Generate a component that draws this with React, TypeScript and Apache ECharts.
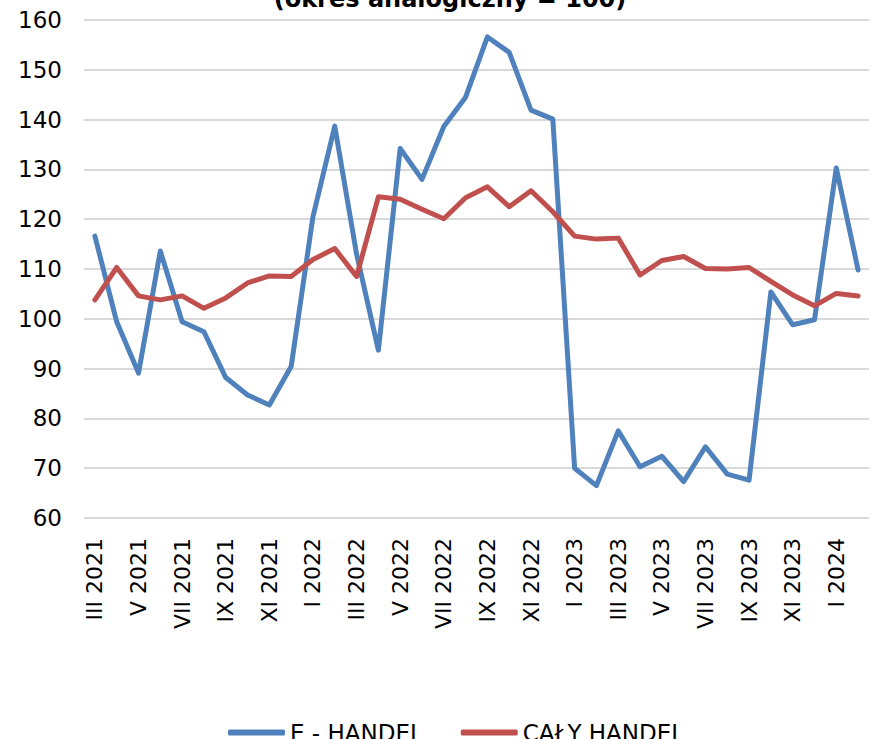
import React, { useEffect, useRef } from "react";
import * as echarts from "echarts";

const categories = [
  "III 2021", "IV 2021", "V 2021", "VI 2021", "VII 2021", "VIII 2021", "IX 2021", "X 2021", "XI 2021", "XII 2021",
  "I 2022", "II 2022", "III 2022", "IV 2022", "V 2022", "VI 2022", "VII 2022", "VIII 2022", "IX 2022", "X 2022", "XI 2022", "XII 2022",
  "I 2023", "II 2023", "III 2023", "IV 2023", "V 2023", "VI 2023", "VII 2023", "VIII 2023", "IX 2023", "X 2023", "XI 2023", "XII 2023",
  "I 2024", "II 2024",
];

const eHandel = [
  116.6, 99.4, 89.1, 113.6, 99.4, 97.4, 88.2, 84.7, 82.7, 90.4,
  120.5, 138.7, 113.0, 93.7, 134.2, 128.0, 138.6, 144.5, 156.6, 153.5, 141.9, 140.1,
  70.0, 66.5, 77.5, 70.3, 72.4, 67.3, 74.3, 68.8, 67.6, 105.4, 98.8, 99.8,
  130.3, 109.8,
];

const calyHandel = [
  103.8, 110.3, 104.6, 103.8, 104.6, 102.1, 104.2, 107.2, 108.6, 108.5,
  111.9, 114.1, 108.5, 124.5, 124.0, 122.0, 120.1, 124.3, 126.5, 122.5, 125.7, 121.5,
  116.6, 116.0, 116.2, 108.8, 111.7, 112.5, 110.1, 110.0, 110.3, 107.5, 104.8, 102.6,
  105.1, 104.6,
];

const seriesNames = ["E - HANDEL", "CAŁY HANDEL"];
const titleText = "(okres analogiczny = 100)";

export default function App() {
  const ref = useRef<HTMLDivElement>(null);
  useEffect(() => {
    if (!ref.current) return;
    const chart = echarts.init(ref.current, null, { renderer: "svg" });
    const font = "'DejaVu Sans', Verdana, sans-serif";
    chart.setOption({
      animation: false,
      backgroundColor: "#ffffff",
      textStyle: { fontFamily: font },
      graphic: [
        {
          type: "text",
          x: 450,
          y: -1,
          style: {
            text: titleText,
            fontFamily: font,
            fontSize: 24,
            fontWeight: "bold",
            fill: "#000000",
            align: "center",
            verticalAlign: "middle",
          },
        },
      ],
      grid: { left: 84, right: -5, top: 20, bottom: 221, containLabel: false },
      legend: {
        data: seriesNames,
        left: 223,
        top: 716,
        itemWidth: 57,
        itemHeight: 6,
        itemGap: 38,
        icon: "roundRect",
        textStyle: { fontFamily: font, fontSize: 23, color: "#000000", lineHeight: 23 },
      },
      xAxis: {
        type: "category",
        data: categories,
        boundaryGap: true,
        axisLine: { show: false },
        axisTick: { show: false },
        axisLabel: {
          interval: 1,
          rotate: 90,
          margin: 20,
          fontSize: 22,
          fontFamily: font,
          color: "#000000",
        },
      },
      yAxis: {
        type: "value",
        min: 60,
        max: 160,
        interval: 10,
        axisLine: { show: false },
        axisTick: { show: false },
        axisLabel: { fontSize: 23, fontFamily: font, color: "#000000", margin: 22 },
        splitLine: { lineStyle: { color: "#d9d9d9", width: 2 } },
      },
      series: [
        {
          name: seriesNames[0],
          type: "line",
          data: eHandel,
          showSymbol: false,
          symbol: "none",
          lineStyle: { color: "#4f81bd", width: 5, cap: "round", join: "round" },
          itemStyle: { color: "#4f81bd" },
        },
        {
          name: seriesNames[1],
          type: "line",
          data: calyHandel,
          showSymbol: false,
          symbol: "none",
          lineStyle: { color: "#c0504d", width: 5, cap: "round", join: "round" },
          itemStyle: { color: "#c0504d" },
        },
      ],
    });
    return () => chart.dispose();
  }, []);
  return (
    <div
      ref={ref}
      style={{ position: "fixed", left: 0, top: 0, width: 869, height: 739, background: "#fff" }}
    />
  );
}
